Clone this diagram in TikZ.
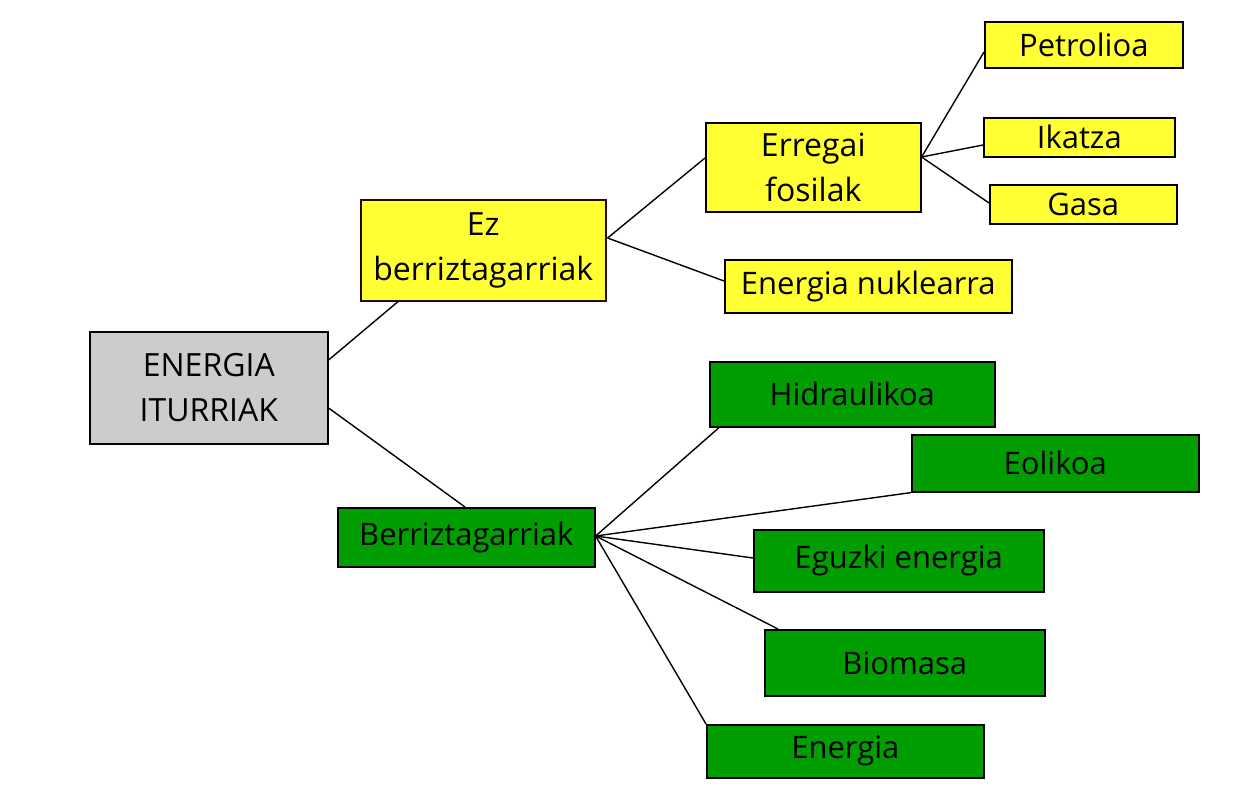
\documentclass[tikz,border=0pt]{standalone}
\usepackage{fontspec}
\setmainfont{Open Sans}
\usetikzlibrary{calc}
\definecolor{boxgray}{RGB}{204,204,204}
\definecolor{boxyellow}{RGB}{255,255,51}
\definecolor{boxgreen}{RGB}{0,158,0}
\definecolor{darkedge}{RGB}{40,10,0}
\tikzset{
  box/.style={draw=black, line width=1.6pt, anchor=north west, inner sep=0pt, align=center},
  graybox/.style={box, fill=boxgray},
  yelbox/.style={box, fill=boxyellow},
  grnbox/.style={box, fill=boxgreen},
  link/.style={draw=black, line width=1.4pt},
  big/.style={font=\fontsize{32}{45}\selectfont},
  mid/.style={font=\fontsize{31}{38}\selectfont}
}
\begin{document}
\begin{tikzpicture}[x=1pt,y=-1pt]
\useasboundingbox (0,0) rectangle (1260,798);
\fill[white] (0,0) rectangle (1260,798);
% nodes
\node[graybox, big, minimum width=238pt, minimum height=112pt] (ei) at (89,331) {ENERGIA\\ITURRIAK};
\node[yelbox, big, draw=darkedge, minimum width=245pt, minimum height=101pt] (ez) at (360,199) {Ez\\berriztagarriak};
\node[yelbox, big, minimum width=215pt, minimum height=89pt] (ef) at (705,122) {Erregai\\fosilak};
\node[yelbox, mid, minimum width=198pt, minimum height=46pt] (pe) at (984,21) {Petrolioa};
\node[yelbox, mid, minimum width=191pt, minimum height=39pt] (ik) at (983,117) {Ikatza};
\node[yelbox, mid, minimum width=187pt, minimum height=39pt] (ga) at (989,184) {Gasa};
\node[yelbox, mid, minimum width=287pt, minimum height=53pt] (nu) at (724,259) {Energia nuklearra};
\node[grnbox, mid, minimum width=257pt, minimum height=59pt] (be) at (337,507) {Berriztagarriak};
\node[grnbox, mid, minimum width=285pt, minimum height=65pt] (hi) at (709,361) {Hidraulikoa};
\node[grnbox, mid, minimum width=287pt, minimum height=57pt] (eo) at (911,434) {Eolikoa};
\node[grnbox, mid, minimum width=290pt, minimum height=62pt] (eg) at (753,529) {Eguzki energia};
\node[grnbox, mid, minimum width=280pt, minimum height=66pt] (bi) at (764,629) {Biomasa};
\node[grnbox, mid, minimum width=277pt, minimum height=53pt] (en) at (706,724) {Energia};
% connector end points
\coordinate (eiA) at ($(ei.north east)+(0,29)$);
\coordinate (eiB) at ($(ei.north east)+(0,77)$);
\coordinate (ezS) at ($(ez.south west)+(38,0)$);
\coordinate (ezE) at ($(ez.north east)+(1,39)$);
\coordinate (efW) at ($(ef.north west)+(0,36)$);
\coordinate (efE) at ($(ef.north east)+(0,35)$);
\coordinate (nuW) at ($(nu.north west)+(0,22)$);
\coordinate (peW) at ($(pe.north west)+(0,31)$);
\coordinate (ikW) at ($(ik.north west)+(0,28)$);
\coordinate (gaW) at ($(ga.north west)+(0,19)$);
\coordinate (beN) at ($(be.north west)+(128,0)$);
\coordinate (beE) at ($(be.north east)+(0,29)$);
\coordinate (hiS) at ($(hi.south west)+(10,0)$);
\coordinate (eoS) at ($(eo.south west)$);
\coordinate (egW) at ($(eg.north west)+(0,29)$);
\coordinate (biN) at ($(bi.north west)+(14,0)$);
\coordinate (enW) at ($(en.north west)$);
% connectors
\draw[link] (eiA) -- (ezS);
\draw[link] (eiB) -- (beN);
\draw[link] (ezE) -- (efW);
\draw[link] (ezE) -- (nuW);
\draw[link] (efE) -- (peW);
\draw[link] (efE) -- (ikW);
\draw[link] (efE) -- (gaW);
\draw[link] (beE) -- (hiS);
\draw[link] (beE) -- (eoS);
\draw[link] (beE) -- (egW);
\draw[link] (beE) -- (biN);
\draw[link] (beE) -- (enW);
\end{tikzpicture}
\end{document}
